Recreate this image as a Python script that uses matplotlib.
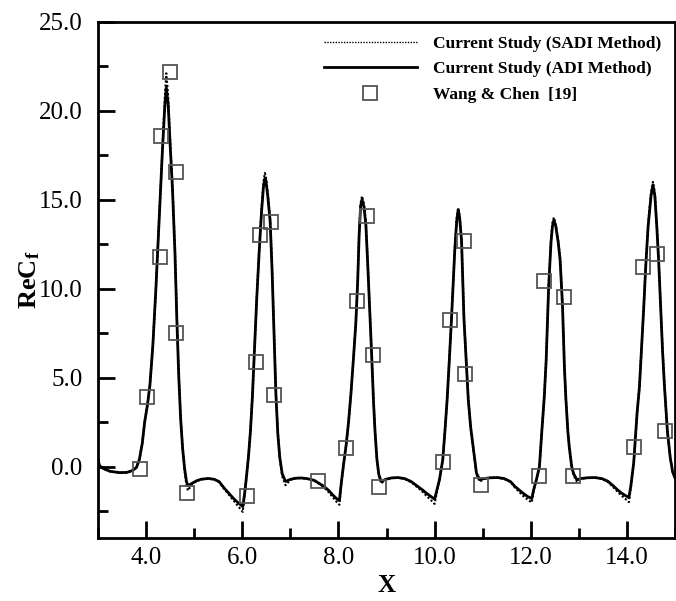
import matplotlib
matplotlib.use("Agg")
import matplotlib.pyplot as plt
from matplotlib.lines import Line2D
from matplotlib.ticker import MultipleLocator, FormatStrFormatter

# current study, ADI method
x_adi = [3.00, 3.03, 3.10, 3.25, 3.45, 3.60, 3.72, 3.80, 3.86, 3.92, 3.97, 4.03, 4.08, 4.14, 4.20, 4.27, 4.34, 4.39, 4.42,
         4.46, 4.49, 4.55, 4.60, 4.64, 4.68, 4.72, 4.76, 4.80, 4.84, 4.87,
         4.95, 5.05, 5.15, 5.30, 5.42, 5.52, 5.62, 5.72, 5.82, 5.92, 6.01,
         6.05, 6.09, 6.13, 6.17, 6.21, 6.25, 6.30, 6.35, 6.40, 6.44, 6.47,
         6.49, 6.53, 6.58, 6.62, 6.66, 6.70, 6.74, 6.78, 6.83, 6.90,
         7.00, 7.10, 7.22, 7.35, 7.50, 7.60, 7.70, 7.80, 7.88, 7.96, 8.02,
         8.06, 8.11, 8.16, 8.21, 8.26, 8.31, 8.36, 8.40, 8.43, 8.46, 8.49,
         8.53, 8.57, 8.61, 8.65, 8.69, 8.73, 8.76, 8.80, 8.84, 8.89,
         8.98, 9.10, 9.24, 9.38, 9.51, 9.65, 9.75, 9.83, 9.92, 10.00,
         10.05, 10.10, 10.17, 10.22, 10.26, 10.30, 10.35, 10.42, 10.46, 10.49,
         10.52, 10.56, 10.61, 10.67, 10.70, 10.75, 10.80, 10.87, 10.94,
         11.02, 11.15, 11.32, 11.45, 11.58, 11.67, 11.75, 11.84, 11.93, 12.02,
         12.06, 12.12, 12.18, 12.23, 12.28, 12.32, 12.37, 12.42, 12.45, 12.48,
         12.52, 12.57, 12.61, 12.66, 12.70, 12.73, 12.77, 12.80, 12.85, 12.89, 12.96,
         13.05, 13.18, 13.34, 13.48, 13.60, 13.70, 13.80, 13.88, 13.96, 14.04,
         14.08, 14.14, 14.21, 14.26, 14.30, 14.35, 14.39, 14.44, 14.50, 14.54,
         14.58, 14.62, 14.66, 14.70, 14.74, 14.78, 14.84, 14.90, 14.95, 15.00]
y_adi = [0.40, 0.05, -0.10, -0.27, -0.34, -0.33, -0.22, -0.05, 0.40, 1.30, 2.50, 3.50, 4.60, 6.80, 9.80, 13.8, 17.8, 20.3, 21.3,
         20.3, 18.6, 15.5, 12.0, 8.2, 5.0, 2.6, 1.0, -0.10, -0.85, -1.08,
         -0.95, -0.80, -0.71, -0.67, -0.72, -0.85, -1.20, -1.50, -1.80, -2.05, -2.25,
         -1.50, -0.50, 0.60, 2.00, 3.90, 6.30, 9.40, 12.0, 14.3, 15.7, 16.2,
         16.1, 15.2, 13.76, 11.0, 7.5, 4.0, 1.8, 0.5, -0.40, -0.84,
         -0.72, -0.66, -0.64, -0.68, -0.78, -0.95, -1.12, -1.35, -1.59, -1.80, -1.91,
         -0.90, 0.20, 1.20, 2.50, 4.10, 6.00, 8.00, 10.4, 13.0, 14.6, 15.0,
         14.6, 13.6, 11.3, 8.8, 6.3, 3.6, 2.0, 0.40, -0.45, -0.84,
         -0.72, -0.64, -0.62, -0.68, -0.84, -1.12, -1.32, -1.50, -1.68, -1.83,
         -1.30, -0.75, 0.40, 2.20, 3.75, 5.70, 8.26, 12.2, 13.8, 14.42,
         14.0, 12.66, 8.30, 5.20, 3.75, 2.20, 1.12, -0.37, -0.75,
         -0.68, -0.63, -0.62, -0.68, -0.85, -1.12, -1.30, -1.50, -1.68, -1.80,
         -1.30, -0.70, 0.00, 2.00, 3.90, 6.00, 10.0, 12.6, 13.5, 13.86,
         13.5, 12.6, 11.6, 9.00, 5.50, 3.80, 2.00, 1.10, 0.00, -0.40, -0.75,
         -0.67, -0.63, -0.62, -0.68, -0.82, -1.05, -1.30, -1.48, -1.62, -1.74,
         -1.10, 0.20, 3.00, 4.50, 6.50, 9.00, 11.24, 13.5, 15.2, 15.83,
         15.2, 13.5, 11.5, 9.00, 6.50, 4.50, 2.00, 0.50, -0.30, -0.65]

# current study, SADI method (same stations, a bit higher peaks / deeper dips)
y_sadi = [0.40, 0.05, -0.10, -0.27, -0.36, -0.35, -0.24, -0.05, 0.40, 1.30, 2.50, 3.50, 4.60, 6.80, 9.80, 13.8, 17.9, 20.8, 22.1,
          20.8, 18.9, 15.7, 12.2, 8.4, 5.1, 2.7, 1.0, -0.20, -1.10, -1.35,
          -1.00, -0.82, -0.72, -0.68, -0.74, -0.88, -1.25, -1.58, -1.92, -2.25, -2.55,
          -1.60, -0.50, 0.60, 2.00, 3.90, 6.30, 9.40, 12.1, 14.5, 16.0, 16.5,
          16.3, 15.4, 13.9, 11.2, 7.6, 4.1, 1.9, 0.5, -0.55, -1.05,
          -0.75, -0.67, -0.65, -0.69, -0.80, -0.98, -1.18, -1.45, -1.72, -1.98, -2.15,
          -0.95, 0.20, 1.20, 2.50, 4.10, 6.00, 8.00, 10.5, 13.1, 14.8, 15.2,
          14.8, 13.7, 11.4, 8.9, 6.4, 3.7, 2.0, 0.40, -0.55, -0.95,
          -0.74, -0.65, -0.63, -0.70, -0.88, -1.18, -1.42, -1.65, -1.88, -2.10,
          -1.40, -0.75, 0.40, 2.20, 3.75, 5.70, 8.30, 12.3, 14.0, 14.55,
          14.1, 12.8, 8.40, 5.30, 3.80, 2.20, 1.12, -0.45, -0.85,
          -0.70, -0.64, -0.63, -0.70, -0.88, -1.18, -1.40, -1.65, -1.85, -2.02,
          -1.35, -0.70, 0.00, 2.00, 3.90, 6.00, 10.1, 12.7, 13.7, 14.0,
          13.6, 12.7, 11.7, 9.10, 5.60, 3.80, 2.00, 1.10, 0.00, -0.50, -0.85,
          -0.69, -0.64, -0.63, -0.70, -0.86, -1.12, -1.40, -1.62, -1.80, -2.00,
          -1.20, 0.20, 3.00, 4.50, 6.50, 9.00, 11.3, 13.6, 15.4, 16.0,
          15.4, 13.6, 11.6, 9.10, 6.60, 4.60, 2.00, 0.50, -0.30, -0.65]

# Wang & Chen [19]
x_wang = [3.87, 4.01, 4.28, 4.32, 4.50, 4.62, 4.63, 4.86, 6.10, 6.28, 6.37, 6.60, 6.65, 7.57, 8.16, 8.39,
          8.59, 8.71, 8.85, 10.18, 10.33, 10.61, 10.64, 10.97, 12.18, 12.27, 12.69, 12.88, 14.15, 14.34, 14.62, 14.79]
y_wang = [-0.15, 3.88, 11.8, 18.6, 22.2, 16.56, 7.53, -1.46, -1.65, 5.9, 13.0, 13.76, 4.03, -0.84, 1.07, 9.33,
          14.08, 6.28, -1.16, 0.28, 8.26, 12.66, 5.22, -1.05, -0.52, 10.45, 9.55, -0.52, 1.09, 11.24, 11.97, 1.97]

labels = ["Current Study (SADI Method)", "Current Study (ADI Method)", "Wang & Chen  [19]"]

plt.rcParams["font.family"] = "Liberation Serif"
plt.rcParams["mathtext.fontset"] = "custom"
plt.rcParams["mathtext.rm"] = "Liberation Serif"
plt.rcParams["mathtext.bf"] = "Liberation Serif:bold"
plt.rcParams["mathtext.it"] = "Liberation Serif:italic"

fig = plt.figure(figsize=(6.76, 6.01), dpi=100)
ax = fig.add_axes([0.145, 0.1053, 0.8536, 0.8586])

ax.plot(x_adi, y_sadi, color="black", lw=1.5, ls=(0, (1, 1)), zorder=2)
ax.plot(x_adi, y_adi, color="black", lw=2.0, zorder=3)
ax.plot(x_wang, y_wang, ls="none", marker="s", ms=9.5, mfc="none", mec="#555555", mew=1.3, zorder=4)

ax.set_xlim(3, 15)
ax.set_ylim(-4, 25)
ax.xaxis.set_major_locator(MultipleLocator(2))
ax.xaxis.set_minor_locator(MultipleLocator(1))
ax.yaxis.set_major_locator(MultipleLocator(5))
ax.yaxis.set_minor_locator(MultipleLocator(2.5))
ax.xaxis.set_major_formatter(FormatStrFormatter("%.1f"))
ax.yaxis.set_major_formatter(FormatStrFormatter("%.1f"))

ax.tick_params(which="both", direction="in", top=False, right=False, width=2, labelsize=18)
ax.tick_params(which="major", length=12)
ax.tick_params(which="minor", length=7)
ax.tick_params(axis="x", pad=7)
ax.tick_params(axis="y", pad=11)
for s in ax.spines.values():
    s.set_linewidth(2)

ax.set_xlabel("X", fontsize=18, fontweight="bold", labelpad=3)
ax.set_ylabel(r"$\mathbf{ReC_f}$", fontsize=19, labelpad=-2)

# legend
handles = [
    Line2D([], [], color="black", lw=1.0, ls=(0, (1, 1))),
    Line2D([], [], color="black", lw=2.0),
    Line2D([], [], ls="none", marker="s", ms=9.5, mfc="none", mec="#555555", mew=1.3),
]
ax.legend(handles, labels, loc="upper right", frameon=False,
          prop={"family": "Liberation Serif", "weight": "bold", "size": 12.5},
          handlelength=5.4, handletextpad=0.9, labelspacing=0.55,
          borderaxespad=0.6, borderpad=0.2)

fig.savefig("out.png", dpi=100)
